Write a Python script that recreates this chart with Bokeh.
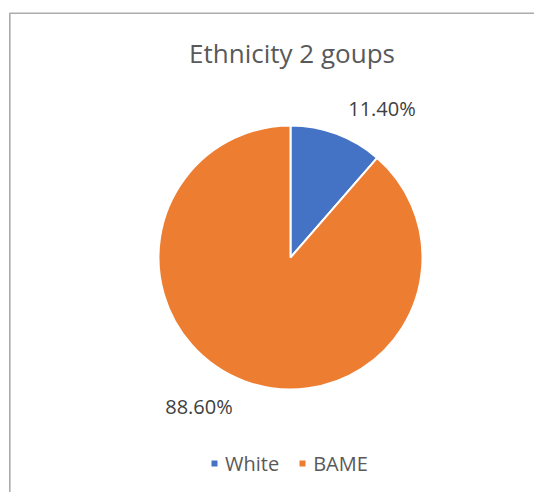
import numpy as np
from bokeh.plotting import figure
from bokeh.models import Range1d, Legend, LegendItem
from bokeh.core.properties import value
from bokeh.embed import file_html
from bokeh.resources import INLINE

# ---- data ----
title_text = "Ethnicity 2 goups"
categories = ["White", "BAME"]
shares = [11.4, 88.6]
label_texts = ["11.40%", "88.60%"]
colors = ["#4472C4", "#ED7D31"]

# ---- layout / style ----
W, H = 534, 492
cx, cy, R = 290, 235, 132
FONT = "Open Sans"

frac = np.array(shares) / sum(shares)
cum = np.concatenate([[0.0], np.cumsum(frac)])
start = np.pi / 2 - 2 * np.pi * cum[:-1]
end = np.pi / 2 - 2 * np.pi * cum[1:]
mid = (start + end) / 2
lab_r = 175
lab_rot = np.deg2rad(11)
lx = cx + lab_r * np.cos(mid - lab_rot)
ly = cy + lab_r * np.sin(mid - lab_rot)

p = figure(width=W, height=H, output_backend="svg", toolbar_location=None,
           x_range=Range1d(0, W), y_range=Range1d(0, H),
           min_border=0, x_axis_location=None, y_axis_location=None)
p.grid.visible = False
p.outline_line_color = None
p.background_fill_color = "white"
p.border_fill_color = "white"

# chart-area border (clipped at right / bottom)
p.line(x=[9.3, 9.3, W + 5], y=[-5, 479.3, 479.3], line_color="#ABABAB", line_width=1.6)

wedges = p.wedge(x=[cx] * len(shares), y=[cy] * len(shares), radius=R,
                 start_angle=list(start), end_angle=list(end), direction="clock",
                 fill_color=colors, line_color="white", line_width=2)

p.text(x=list(lx), y=list(ly), text=label_texts, text_align="center",
       text_baseline="middle", text_font=value(FONT), text_font_size="20px",
       text_color="#404040")

p.text(x=[cx + 1.5], y=[440], text=[title_text], text_align="center",
       text_baseline="middle", text_font=value(FONT), text_font_size="26px",
       text_color="#595959")

items = [LegendItem(label=categories[i], renderers=[wedges], index=i)
         for i in range(len(categories))]
legend = Legend(items=items, orientation="horizontal", location=(209, 15.5),
                glyph_width=10, glyph_height=10, label_standoff=6, spacing=18,
                padding=0, margin=0, border_line_color=None,
                background_fill_alpha=0, label_text_font=FONT,
                label_text_font_size="20px", label_text_color="#595959")
p.add_layout(legend)

open("out.html", "w").write(file_html(p, INLINE))
